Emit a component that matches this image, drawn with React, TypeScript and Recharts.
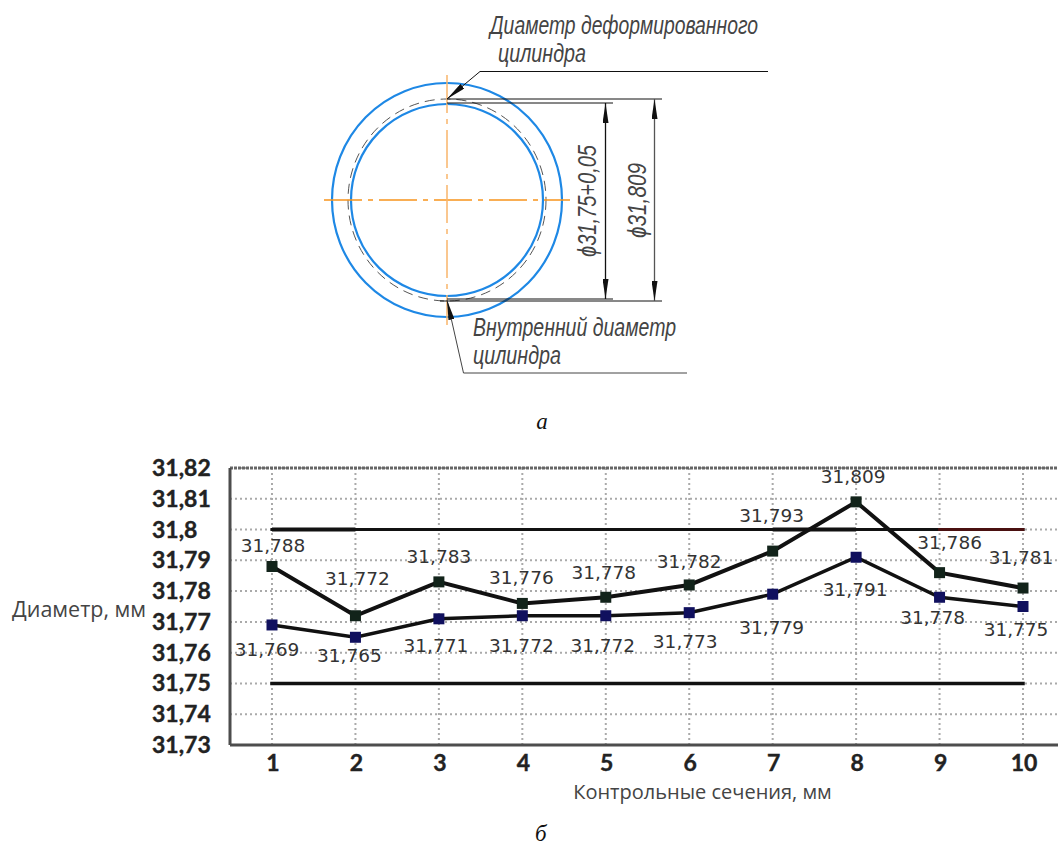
import { CartesianGrid, LabelList, Line, LineChart, ReferenceLine, XAxis, YAxis } from "recharts";

const sections = ["1", "2", "3", "4", "5", "6", "7", "8", "9", "10"];
const deformedDiameter = [31.788, 31.772, 31.783, 31.776, 31.778, 31.782, 31.793, 31.809, 31.786, 31.781];
const innerDiameter = [31.769, 31.765, 31.771, 31.772, 31.772, 31.773, 31.779, 31.791, 31.778, 31.775];
const upperLimit = [31.8, 31.8, 31.8, 31.8, 31.8, 31.8, 31.8, 31.8, 31.8, 31.8];
const upperLimitHeavy = [31.8, 31.8, null, null, null, null, 31.8, 31.8, null, null];
const upperLimitRed = [null, null, null, null, null, null, null, null, 31.8, 31.8];
const lowerLimit = [31.75, 31.75, 31.75, 31.75, 31.75, 31.75, 31.75, 31.75, 31.75, 31.75];
const yTicks = [31.73, 31.74, 31.75, 31.76, 31.77, 31.78, 31.79, 31.8, 31.81, 31.82];

// hand placed value labels, the picture does not keep them at a fixed distance
const upperLabelOffsets = [[1, -20], [2, -37], [0, -25], [-1, -25], [-2, -24], [0, -23], [-1, -35], [-3, -25], [10, -30], [-2, -30]];
const lowerLabelOffsets = [[-5, 25], [-6, 19], [-3, 27], [-1, 30], [-3, 30], [-4, 29], [-1, 34], [-1, 33], [-7, 21], [-7, 23]];

const chartData = sections.map((name, i) => ({
  name,
  deformed: deformedDiameter[i],
  inner: innerDiameter[i],
  upper: upperLimit[i],
  upperHeavy: upperLimitHeavy[i],
  upperRed: upperLimitRed[i],
  lower: lowerLimit[i],
}));

const comma = (v: number) => String(v).replace(".", ",");

const YTick = ({ y, payload }: any) => (
  <text x={152} y={y + 8} fontFamily="Lato" fontWeight={700} fontSize={23} fill="#222" stroke="#222" strokeWidth={0.4}>
    {comma(payload.value)}
  </text>
);

const XTick = ({ x, y, payload }: any) => (
  <text x={x + 1} y={y + 18} textAnchor="middle" fontFamily="Lato" fontWeight={700} fontSize={23} fill="#222" stroke="#222" strokeWidth={0.4}>
    {payload.value}
  </text>
);

const squareDot = (color: string) => ({ cx, cy, index }: any) => (
  <rect key={index} x={cx - 5.5} y={cy - 5.5} width={11} height={11} fill={color} />
);

const valueLabel = (values: number[], offsets: number[][]) => ({ x, y, index }: any) => (
  <text
    x={x + offsets[index][0]}
    y={y + offsets[index][1] + 6}
    textAnchor="middle"
    fontFamily="DejaVu Sans"
    fontSize={18.5}
    fill="#333"
  >
    {comma(values[index])}
  </text>
);

const Drawing = () => (
  <svg width={1058} height={445} style={{ position: "absolute", left: 0, top: 0 }}>
    <defs>
      <marker id="arrow" viewBox="0 0 20 6" refX="20" refY="3" markerWidth="20" markerHeight="6" markerUnits="userSpaceOnUse" orient="auto-start-reverse">
        <path d="M0 0 L20 3 L0 6 Z" fill="#111" />
      </marker>
    </defs>
    <ellipse cx={447} cy={200} rx={115} ry={117} fill="none" stroke="#1e88e5" strokeWidth={2.2} />
    <circle cx={447} cy={200} r={96} fill="none" stroke="#1e88e5" strokeWidth={2.2} />
    <ellipse cx={447} cy={200} rx={99} ry={101} fill="none" stroke="#555" strokeWidth={1} strokeDasharray="10 6" />
    <line x1={324} y1={200} x2={570} y2={200} stroke="#f7941d" strokeWidth={1.5} strokeDasharray="38 6 5 6" />
    <line x1={447} y1={75} x2={447} y2={325} stroke="#f9b56b" strokeWidth={1.5} strokeDasharray="38 6 5 6" />
    <g stroke="#111" strokeWidth={1} fill="none">
      <line x1={447} y1={99} x2={662} y2={99} />
      <line x1={447} y1={103} x2={613} y2={103} />
      <line x1={447} y1={299} x2={613} y2={299} />
      <line x1={440} y1={301} x2={662} y2={301} />
      <line x1={605.5} y1={103} x2={605.5} y2={299} strokeWidth={1.3} markerStart="url(#arrow)" markerEnd="url(#arrow)" />
      <line x1={654.5} y1={99} x2={654.5} y2={301} stroke="#555" strokeWidth={1.3} markerStart="url(#arrow)" markerEnd="url(#arrow)" />
      <polyline points="768,71.5 480,71.5 447,99" markerEnd="url(#arrow)" />
      <polyline points="687,373 463.5,373 447,300" stroke="#444" markerEnd="url(#arrow)" />
    </g>
    <g fontFamily="Liberation Sans Narrow, Liberation Sans" fontStyle="italic" fontSize={25} fill="#444">
      <text x={490} y={34} textLength={268} lengthAdjust="spacingAndGlyphs">Диаметр деформированного</text>
      <text x={498} y={62} textLength={88} lengthAdjust="spacingAndGlyphs">цилиндра</text>
      <text x={473} y={336} textLength={203} lengthAdjust="spacingAndGlyphs">Внутренний диаметр</text>
      <text x={473} y={364} textLength={88} lengthAdjust="spacingAndGlyphs">цилиндра</text>
      <text transform="translate(596,257) rotate(-90)" textLength={112} lengthAdjust="spacingAndGlyphs">ϕ31,75+0,05</text>
      <text transform="translate(646,238) rotate(-90)" textLength={75} lengthAdjust="spacingAndGlyphs">ϕ31,809</text>
    </g>
    <text x={542} y={429} textAnchor="middle" fontFamily="Liberation Serif" fontStyle="italic" fontSize={23} fill="#111">а</text>
  </svg>
);

export default function App() {
  return (
    <div style={{ position: "absolute", left: 0, top: 0, width: 1058, height: 845, overflow: "hidden", background: "#fff" }}>
      <Drawing />
      <div style={{ position: "absolute", left: 0, top: 440 }}>
        <LineChart width={1066} height={405} data={chartData} margin={{ top: 28, right: 1, bottom: 0, left: 0 }}>
          <CartesianGrid stroke="#aaa" strokeWidth={2} strokeDasharray="2 3" />
          <XAxis
            dataKey="name"
            scale="point"
            padding={{ left: 42, right: 42 }}
            height={100}
            interval={0}
            axisLine={{ stroke: "#4d4d4d", strokeWidth: 3 }}
            tickLine={false}
            tick={XTick}
            label={{ value: "Контрольные сечения, мм", position: "insideBottom", offset: 46, dx: 55, fontFamily: "Open Sans", fontSize: 20, fill: "#444" }}
          />
          <YAxis
            type="number"
            domain={[31.73, 31.82]}
            ticks={yTicks}
            width={230}
            interval={0}
            axisLine={{ stroke: "#4d4d4d", strokeWidth: 3 }}
            tickLine={false}
            tick={YTick}
            label={{ value: "Диаметр, мм", position: "insideLeft", offset: 12, dy: 3, fontFamily: "Open Sans", fontSize: 21.5, fill: "#444" }}
          />
          <ReferenceLine y={31.82} stroke="#666" strokeWidth={3} strokeDasharray="3 1" />
          <Line dataKey="upper" stroke="#111" strokeWidth={3} strokeLinecap="square" dot={false} isAnimationActive={false} />
          <Line dataKey="upperHeavy" stroke="#111" strokeWidth={4} dot={false} isAnimationActive={false} />
          <Line dataKey="upperRed" stroke="#4a1010" strokeWidth={3} strokeLinecap="square" dot={false} isAnimationActive={false} />
          <Line dataKey="lower" stroke="#111" strokeWidth={3.5} strokeLinecap="square" dot={false} isAnimationActive={false} />
          <Line dataKey="inner" stroke="#111" strokeWidth={3.5} dot={squareDot("#10105e")} isAnimationActive={false}>
            <LabelList dataKey="inner" content={valueLabel(innerDiameter, lowerLabelOffsets)} />
          </Line>
          <Line dataKey="deformed" stroke="#111" strokeWidth={4} dot={squareDot("#12231a")} isAnimationActive={false}>
            <LabelList dataKey="deformed" content={valueLabel(deformedDiameter, upperLabelOffsets)} />
          </Line>
        </LineChart>
      </div>
      <div style={{ position: "absolute", left: 535, top: 821, fontFamily: "Liberation Serif", fontStyle: "italic", fontSize: 23, color: "#111" }}>б</div>
    </div>
  );
}
